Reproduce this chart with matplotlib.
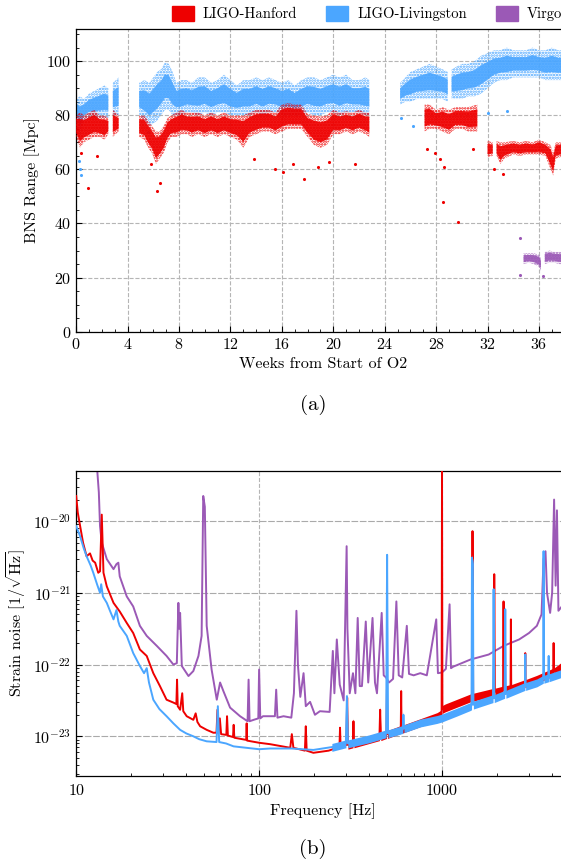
import numpy as np
import matplotlib

matplotlib.use("Agg")
import matplotlib.pyplot as plt
from matplotlib.patches import Patch
from matplotlib.ticker import MultipleLocator, LogLocator, FixedLocator, FuncFormatter, NullFormatter

plt.rcParams["font.family"] = ["cmr10", "DejaVu Serif"]
plt.rcParams["mathtext.fontset"] = "cm"
plt.rcParams["axes.formatter.use_mathtext"] = True
plt.rcParams["axes.unicode_minus"] = False
plt.rcParams["hatch.linewidth"] = 1.2

C_H = "#ee0000"
C_L = "#4ba6ff"
C_V = "#9b59b6"
nan = np.nan

# ---- (a) BNS range: band envelopes (weeks, Mpc), nan = gap ----
H_t = [0.0, 0.3, 0.6, 1.0, 1.4, 1.8, 2.2, 2.5, nan, 2.85, 3.3, nan,
       4.9, 5.3, 5.6, 5.9, 6.2, 6.5, 6.8, 7.1, 7.4, 7.8, 8.2, 8.6, 9.0, 9.5,
       10.0, 10.5, 11.0, 11.5, 12.0, 12.5, 13.0, 13.5, 14.0, 14.5, 15.0, 15.5,
       16.0, 16.5, 17.0, 17.5, 18.0, 18.5, 19.0, 19.5, 20.0, 20.5, 21.0, 21.5,
       22.0, 22.5, 22.8, nan,
       27.1, 27.5, 28.0, 28.5, 29.0, 29.5, 30.0, 30.5, 31.2, nan,
       32.0, 32.4, nan, 32.7, 33.0, 33.3, 34.0, 34.5, 35.0, 35.5, 36.0, 36.5,
       36.9, 37.1, 37.3, 38.0, 38.4]
H_lo = [72, 68, 70, 71, 72, 72, 71, 73, nan, 72, 74, nan,
        72, 71, 68, 66, 62, 64, 66, 70, 72, 72, 73, 73, 72, 73,
        72, 73, 72, 73, 72, 71, 68, 72, 73, 74, 74, 73,
        74, 75, 75, 75, 72, 69, 68, 69, 73, 73, 74, 73,
        74, 73, 72, nan,
        74, 75, 75, 74, 73, 75, 75, 74, 74, nan,
        64.5, 65, nan, 65, 62, 64, 65.5, 65, 65.5, 65.5, 65.5, 65,
        60, 57.7, 64, 65, 65]
H_hi = [80, 81, 80, 81, 82, 80, 80, 79, nan, 82, 80, nan,
        80, 80, 78, 76, 74, 74, 76, 79, 80, 81, 82, 81, 81, 81,
        80, 81, 80, 81, 80, 80, 80, 81, 82, 82, 82, 81,
        84, 84.5, 84, 84, 80.5, 80, 79.5, 80, 82, 81, 81.5, 81,
        82, 81, 81, nan,
        84, 84, 82, 83, 82, 83, 83, 83, 84, nan,
        70.5, 70, nan, 70.5, 70, 70, 70.5, 70, 70.5, 70, 71, 70,
        69, 66, 70, 70, 70]
H_out_t = [0.4, 0.9, 1.6, 5.8, 6.3, 6.5, 13.8, 15.5, 16.1, 16.9, 17.7, 18.8,
           19.7, 21.7, 27.3, 27.9, 28.3, 28.5, 28.6, 29.7, 30.9, 32.5, 33.2]
H_out_v = [66, 53, 65, 62, 52, 55, 64, 60, 59, 62, 56.5, 61,
           62.6, 62, 67.5, 66, 64, 48, 61, 40.7, 67.5, 60.3, 58.2]

L_t = [0.0, 0.3, 0.6, 1.0, 1.4, 1.8, 2.2, 2.5, nan, 2.85, 3.3, nan,
       4.9, 5.3, 5.7, 6.0, 6.3, 6.6, 6.9, 7.2, 7.5, 7.8, 8.2, 8.6, 9.0, 9.5,
       10.0, 10.5, 11.0, 11.5, 12.0, 12.5, 13.0, 13.5, 14.0, 14.5, 15.0, 15.5,
       16.0, 16.5, 17.0, 17.5, 18.0, 18.5, 19.0, 19.5, 20.0, 20.5, 21.0, 21.5,
       22.0, 22.5, 22.8, nan,
       25.2, 25.6, 26.0, 26.5, 27.0, 27.5, 28.0, 28.5, 28.9, nan,
       29.2, 29.6, 30.0, 30.5, 31.0, 31.5, 32.0, 32.5, 33.0, 33.5, 34.0, 34.5,
       35.0, 35.5, 36.0, 36.5, 37.0, 37.5, 38.4]
L_lo = [79, 72, 78, 79, 79, 79, 79, 79, nan, 80, 80, nan,
        80, 78, 76, 77, 78, 80, 82, 82, 80, 80, 80, 81, 81, 80,
        81, 80, 81, 81, 80, 80, 80, 80, 81, 80, 81, 81,
        80, 80, 80, 80, 81, 80, 80, 81, 81, 80, 81, 81,
        81, 80, 80, nan,
        84, 85, 85, 86, 86, 86, 86, 86, 85, nan,
        86, 86, 86, 87, 87, 88, 90, 92, 93, 93, 94, 94,
        94, 94, 94, 93, 93, 93, 93]
L_hi = [86, 87, 86, 88, 89, 90, 91, 90, nan, 92, 94, nan,
        92, 93, 92, 94, 96, 97, 99.5, 99, 96, 92, 93, 93, 92, 94,
        94, 92, 93, 95, 93, 91, 93, 93, 94, 93, 94, 93,
        92, 93, 91, 93, 94, 94, 93, 94, 95, 94, 95, 93,
        93, 94, 93, nan,
        92, 94, 96, 97, 98, 99, 98, 97, 96, nan,
        97, 98, 99, 99, 100, 102, 103, 104, 104, 105, 104, 104,
        104, 105, 104, 104, 105, 104, 104]
L_out_t = [0.2, 0.3, 0.4, 5.6, 25.3, 26.2, 32.0, 33.5]
L_out_v = [63, 60, 58, 74, 79, 76, 81, 81.6]

V_t = [34.8, 35.2, 35.6, 36.0, 36.15, nan, 36.45, 36.8, 37.2, 37.6, 38.4]
V_lo = [25, 25.5, 25, 24, 22.5, nan, 25, 25.5, 25.5, 25, 25]
V_hi = [29, 29, 29, 28.5, 27, nan, 29.5, 30, 29.5, 29.5, 29.5]
V_out_t = [34.5, 34.5, 36.3]
V_out_v = [34.6, 21.0, 20.5]

# ---- (b) strain ASD: frequency [Hz], log10 amplitude [1/sqrt(Hz)] ----
L_f = [10.0, 10.5, 11.0, 11.4, 12.0, 12.4, 13.0, 13.5, 13.7, 14.0, 14.7, 15.3,
       16.0, 16.6, 17.0, 17.3, 18.9, 20.5, 22.3, 23.5, 24.3, 25.0, 26.4, 28.5,
       31.2, 34.0, 37.0, 40.0, 43.7, 47.0, 51.7, 58.5, 59.5, 60.5, 66.0, 72.5,
       85.0, 100, 115, 150, 198, 250, 298, 302, 306, 400, 495, 501, 507, 610,
       615, 620, 760, 940, 1000, 1200, 1430, 1450, 1458, 1475, 1485, 1900, 1915,
       1930, 2200, 2217, 2235, 2840, 2853, 2865, 3300, 3580, 3592, 3605, 3820,
       3830, 3840, 4490, 5000]
L_asd = [-20.07, -20.21, -20.38, -20.49, -20.62, -20.72, -20.88, -21.0, -20.88,
         -21.05, -21.14, -21.25, -21.37, -21.24, -21.40, -21.46, -21.60, -21.84,
         -22.02, -22.12, -22.05, -22.25, -22.49, -22.62, -22.72, -22.82, -22.91,
         -22.96, -23.0, -23.04, -23.07, -23.08, -22.58, -23.08, -23.10, -23.14,
         -23.16, -23.18, -23.17, -23.17, -23.19, -23.15, -23.10, -22.44, -23.10,
         -23.03, -22.96, -20.47, -22.96, -22.90, -22.70, -22.89, -22.81, -22.76,
         -22.74, -22.66, -22.58, -22.57, -20.51, -20.6, -22.56, -22.47, -20.95,
         -22.47, -22.41, -21.23, -22.41, -22.30, -21.86, -22.30, -22.25, -22.20,
         -20.42, -22.20, -22.18, -21.88, -22.18, -22.12, -22.08]

H_f = [10.0, 10.2, 10.9, 11.4, 11.9, 12.3, 12.7, 13.2, 13.5, 13.8, 14.1, 14.7,
       16.0, 17.3, 18.9, 20.5, 22.3, 24.3, 26.4, 28.7, 31.2, 34.0, 35.3, 35.6,
       35.9, 37.0, 38.0, 38.5, 40.2, 43.7, 45.0, 46.0, 47.6, 51.7, 56.2, 58.5,
       59.2, 60.0, 61.0, 62.0, 66.2, 66.8, 67.5, 72.0, 72.6, 73.2, 85.0, 85.5,
       86.0, 100, 115, 148, 151, 154, 178, 180, 182, 198, 240, 275, 277, 279,
       300, 303, 306, 326, 328, 330, 455, 459, 463, 497, 500, 503, 595, 598,
       601, 940, 995, 1000, 1005, 1040, 1430, 1460, 1468, 1480, 1920, 1930,
       1945, 2160, 2170, 2180, 2370, 2380, 2390, 2845, 2852, 2860, 3300, 4065,
       4075, 4085, 4490, 5000]
H_asd = [-19.65, -19.88, -20.30, -20.49, -20.45, -20.55, -20.58, -20.72, -20.70,
         -19.91, -20.72, -20.91, -21.14, -21.26, -21.42, -21.56, -21.79, -21.88,
         -22.12, -22.30, -22.49, -22.53, -22.55, -22.21, -22.58, -22.63, -22.40,
         -22.65, -22.72, -22.77, -22.68, -22.80, -22.86, -22.91, -22.95, -22.95,
         -22.63, -22.96, -22.75, -22.97, -22.98, -22.72, -22.99, -23.01, -22.84,
         -23.02, -23.05, -22.82, -23.06, -23.09, -23.11, -23.16, -22.97, -23.16,
         -23.20, -22.86, -23.20, -23.23, -23.20, -23.15, -22.88, -23.15, -23.12,
         -22.46, -23.12, -23.10, -22.79, -23.10, -23.0, -22.63, -23.0, -22.97,
         -22.35, -22.97, -22.90, -22.37, -22.90, -22.72, -22.68, -19.30, -22.62,
         -22.60, -22.46, -22.45, -20.14, -22.45, -22.38, -20.74, -22.38, -22.35,
         -21.12, -22.35, -22.33, -21.37, -22.33, -22.26, -21.84, -22.26, -22.20,
         -22.10, -21.70, -22.10, -22.02, -21.98]

V_f = [13.0, 13.3, 13.5, 13.8, 14.7, 16.0, 16.6, 17.0, 17.3, 18.9, 20.5, 22.3,
       24.3, 27.6, 31.2, 34.0, 35.5, 36.2, 36.6, 37.0, 37.8, 41.1, 43.7, 46.6,
       48.5, 49.5, 50.5, 51.7, 55.0, 58.7, 61.2, 63.8, 69.4, 78.7, 86.5, 87.6,
       88.7, 93.5, 99.0, 100.0, 101.5, 105, 122, 124, 126, 136, 150, 155, 160,
       163, 168, 175, 180, 190, 202, 215, 243, 253, 258, 266, 276, 290, 301,
       304, 313, 326, 336, 346, 355, 365, 383, 395, 417, 430, 441, 468, 480,
       494, 513, 540, 563, 580, 606, 642, 660, 700, 760, 826, 930, 950, 1000,
       1050, 1100, 1120, 1150, 1430, 1800, 2170, 2640, 2990, 3300, 3500, 3590,
       3680, 3750, 3900, 4000, 4100, 4180, 4250, 4330, 4490, 5000]
V_asd = [-19.25, -19.60, -20.07, -20.30, -20.53, -20.67, -20.60, -20.58, -20.77,
         -21.05, -21.19, -21.46, -21.60, -21.74, -21.88, -22.0, -21.98, -21.14,
         -21.5, -21.28, -22.02, -22.16, -22.09, -21.88, -21.60, -19.65, -19.80,
         -21.46, -22.07, -22.49, -22.25, -22.37, -22.60, -22.72, -22.79, -22.21,
         -22.79, -22.77, -22.75, -22.07, -22.75, -22.72, -22.72, -22.35, -22.74,
         -22.72, -22.74, -22.40, -21.25, -22.0, -22.45, -22.12, -22.58, -22.52,
         -22.70, -22.65, -22.66, -21.81, -22.40, -21.65, -22.28, -22.50, -20.35,
         -21.5, -22.40, -22.12, -22.40, -21.35, -22.30, -22.30, -21.40, -22.25,
         -21.35, -22.25, -22.40, -21.28, -22.15, -22.18, -22.25, -22.20, -21.12,
         -22.15, -22.18, -21.46, -22.13, -22.15, -22.12, -22.15, -21.37, -22.12,
         -22.11, -22.06, -21.16, -22.05, -22.03, -21.93, -21.86, -21.74, -21.65,
         -21.56, -21.46, -21.30, -20.53, -20.42, -21.0, -21.28, -21.0, -19.70,
         -20.9, -19.85, -21.25, -21.20, -21.0]


def style_axes(ax):
    ax.tick_params(which="both", direction="in", labelsize=11.5, top=False, right=False)
    ax.tick_params(which="major", length=4, width=0.8)
    ax.tick_params(which="minor", length=2, width=0.6)
    for s in ax.spines.values():
        s.set_linewidth(0.9)


def band(ax, t, lo, hi, color, core, z):
    # speckled outer envelope + dense core, to read like a dense scatter cloud
    t, lo, hi = np.asarray(t), np.asarray(lo), np.asarray(hi)
    ax.fill_between(t, lo, hi, facecolor="none", edgecolor=color, hatch="......",
                    lw=0, zorder=z)
    w = hi - lo
    ax.fill_between(t, lo + core * w, hi - core * w, color=color, lw=0, alpha=0.9,
                    zorder=z)


def trace(ax, f, logasd, color, z, f_noisy=None):
    f = np.asarray(f)
    a = 10 ** np.asarray(logasd)
    ax.plot(f, a, color=color, lw=1.4, zorder=z)
    if f_noisy is not None:
        # the high-frequency trace is a fuzzy band a few pixels tall
        m = f >= f_noisy
        ax.fill_between(f[m], a[m] * 10 ** -0.06, a[m] * 10 ** 0.05, color=color,
                        lw=0, zorder=z)


fig = plt.figure(figsize=(5.61, 8.67), dpi=100)

# ---------------- panel (a)
ax = fig.add_axes([0.1358, 0.6174, 0.880, 0.3495])
band(ax, L_t, L_lo, L_hi, C_L, 0.25, 2)
ax.scatter(L_out_t, L_out_v, s=5, color=C_L, lw=0, zorder=2)
band(ax, H_t, H_lo, H_hi, C_H, 0.18, 3)
ax.scatter(H_out_t, H_out_v, s=5, color=C_H, lw=0, zorder=3)
band(ax, V_t, V_lo, V_hi, C_V, 0.18, 3)
ax.scatter(V_out_t, V_out_v, s=5, color=C_V, lw=0, zorder=3)
ax.set_xlim(0, 38.4)
ax.set_ylim(0, 112)
ax.xaxis.set_major_locator(MultipleLocator(4))
ax.xaxis.set_minor_locator(MultipleLocator(1))
ax.yaxis.set_major_locator(MultipleLocator(20))
ax.yaxis.set_minor_locator(MultipleLocator(5))
ax.grid(True, which="major", ls="--", color="#b5b5b5", lw=0.8)
ax.set_axisbelow(True)
style_axes(ax)
ax.set_xlabel("Weeks from Start of O2", fontsize=11.5, labelpad=4)
ax.set_ylabel("BNS Range [Mpc]", fontsize=11.5)
handles = [Patch(color=C_H, label="LIGO-Hanford"),
           Patch(color=C_L, label="LIGO-Livingston"),
           Patch(color=C_V, label="Virgo")]
ax.legend(handles=handles, loc="lower center", bbox_to_anchor=(0.589, 1.0), ncol=3,
          frameon=False, fontsize=10.5, handlelength=1.5, handleheight=1.15,
          handletextpad=0.6, columnspacing=2.0, borderaxespad=0.1)
fig.text(0.558, 0.533, "(a)", ha="center", va="center", fontsize=15)

# ---------------- panel (b)
bx = fig.add_axes([0.1358, 0.105, 0.880, 0.3518])
trace(bx, V_f, V_asd, C_V, 2)
trace(bx, H_f, H_asd, C_H, 3, f_noisy=300)
trace(bx, L_f, L_asd, C_L, 4, f_noisy=200)
bx.set_xscale("log")
bx.set_yscale("log")
bx.set_xlim(10, 5000)
bx.set_ylim(2.8e-24, 5e-20)
bx.xaxis.set_major_locator(FixedLocator([10, 100, 1000]))
bx.xaxis.set_major_formatter(FuncFormatter(lambda v, p: f"{v:.0f}"))
bx.xaxis.set_minor_locator(LogLocator(base=10, subs=np.arange(2, 10), numticks=20))
bx.xaxis.set_minor_formatter(NullFormatter())
bx.yaxis.set_major_locator(FixedLocator([1e-23, 1e-22, 1e-21, 1e-20]))
bx.yaxis.set_minor_locator(LogLocator(base=10, subs=np.arange(2, 10), numticks=20))
bx.yaxis.set_minor_formatter(NullFormatter())
bx.grid(True, which="major", axis="x", ls="--", color="#b5b5b5", lw=0.8)
bx.grid(True, which="major", axis="y", ls=(0, (6, 1.5)), color="#aaaaaa", lw=0.8)
bx.set_axisbelow(True)
style_axes(bx)
bx.tick_params(axis="x", pad=6)
bx.set_xlabel("Frequency [Hz]", fontsize=11.5, labelpad=4)
bx.set_ylabel(r"Strain noise [$1/\sqrt{\mathrm{Hz}}$]", fontsize=11.5)
fig.text(0.558, 0.021, "(b)", ha="center", va="center", fontsize=15)

fig.savefig("out.png", dpi=100)
